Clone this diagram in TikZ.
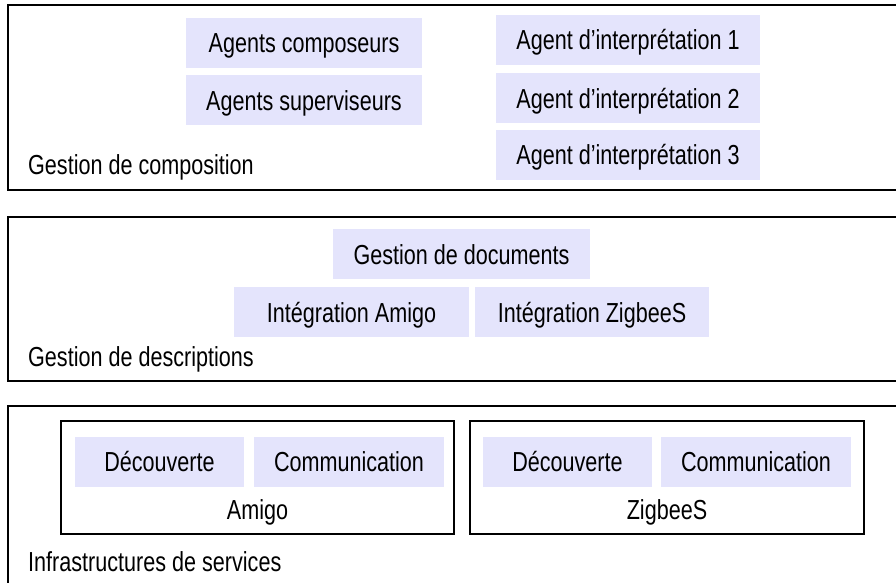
\documentclass[tikz,border=0pt]{standalone}
\usepackage{fontspec}
\setmainfont[FakeStretch=0.785]{Liberation Sans}
\usepackage{xcolor}
\usetikzlibrary{positioning}

\definecolor{lavender}{RGB}{228,228,252}

\begin{document}
\begin{tikzpicture}[
      x=1pt, y=-1pt,
      every node/.style = {font=\fontsize{27.5}{32}\selectfont, inner sep=0pt},
      comp/.style = {fill=lavender, minimum height=50pt, text height=20pt, text depth=0pt},
      layer/.style = {draw, line width=1.2pt},
      group/.style = {draw, line width=1.1pt},
      label/.style = {anchor=base west}
    ]
      \useasboundingbox (0,0) rectangle (896,582);
      \clip (0,0) rectangle (896,582);
      % couches
      \draw[layer] (8,5) rectangle (910,190);
      \draw[layer] (8,217) rectangle (910,381);
      \draw[layer] (8,406) rectangle (910,600);
      % gestion de composition
      \node[comp, minimum width=236pt] (compo) at (304,42.5) {Agents composeurs};
      \node[comp, minimum width=236pt] (super) at (304,100) {Agents superviseurs};
      \node[comp, minimum width=264pt] (interp1) at (628,39.5) {Agent d’interprétation 1};
      \node[comp, minimum width=264pt] (interp2) at (628,98) {Agent d’interprétation 2};
      \node[comp, minimum width=264pt] (interp3) at (628,154.5) {Agent d’interprétation 3};
      \node[label] (lcompo) at (28,174) {Gestion de composition};
      % gestion de descriptions
      \node[comp, minimum width=257pt] (docs) at (461.5,254) {Gestion de documents};
      \node[comp, minimum width=235pt] (intamigo) at (351.5,312) {Intégration Amigo};
      \node[comp, minimum width=234pt] (intzig) at (592,312) {Intégration ZigbeeS};
      \node[label] (ldescr) at (28,366.5) {Gestion de descriptions};
      % infrastructures
      \draw[group] (61,421) rectangle (454,534);
      \draw[group] (470,421) rectangle (864,534);
      \node[comp, minimum width=169pt] (decamigo) at (159.5,461.5) {Découverte};
      \node[comp, minimum width=190pt] (comamigo) at (349,461.5) {Communication};
      \node[comp, minimum width=169pt] (deczig) at (567.5,461.5) {Découverte};
      \node[comp, minimum width=190pt] (comzig) at (756,461.5) {Communication};
      \node[anchor=base] (amigo) at (257.5,519) {Amigo};
      \node[anchor=base] (zigbee) at (667,519) {ZigbeeS};
      \node[label] (linfra) at (28,571.5) {Infrastructures de services};
    \end{tikzpicture}
\end{document}
